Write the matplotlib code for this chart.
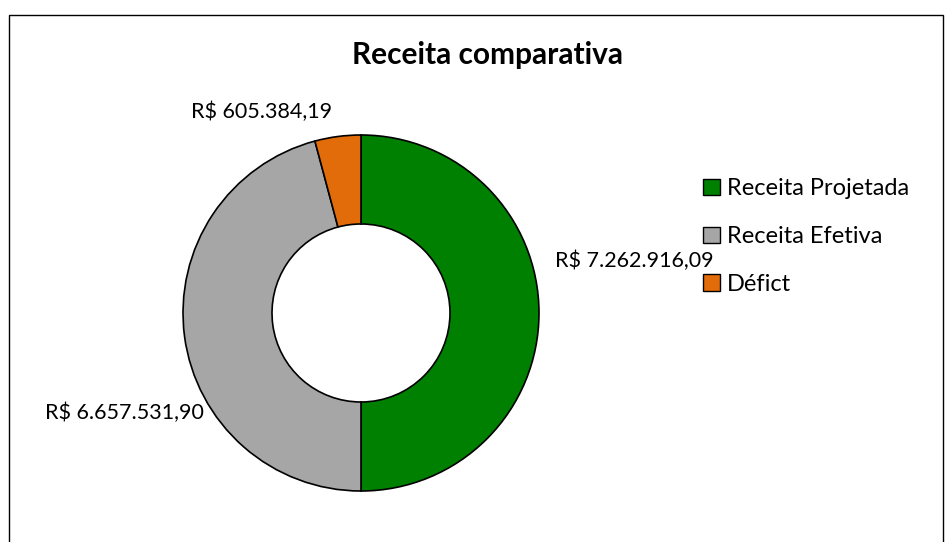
# Receita comparativa - donut chart
import matplotlib.pyplot as plt
from matplotlib.patches import Patch, Rectangle


# 1. Data
categories = ["Receita Projetada", "Receita Efetiva", "Déficit"]
legend_labels = ["Receita Projetada", "Receita Efetiva", "Défict"]
values = [7262916.09, 6657531.90, 605384.19]
value_labels = ["R$ 7.262.916,09", "R$ 6.657.531,90", "R$ 605.384,19"]
colors = ["#008000", "#A6A6A6", "#E36C0A"]


# 2. Figure setup
W, H = 951, 542
plt.rcParams["font.family"] = ["Lato", "DejaVu Sans"]
fig = plt.figure(figsize=(W / 100, H / 100), dpi=100)

# outer frame of the chart area (bottom edge falls outside the picture)
fig.patches.append(Rectangle((8.5 / W, -0.05), (943 - 8.5) / W, 1.05 - 14.5 / H,
                             transform=fig.transFigure, fill=False,
                             edgecolor="black", linewidth=1.0))

# donut: centre (361, 313) px, outer radius 178 px
cx, cy, r = 361, 313, 178
ax = fig.add_axes([(cx - r) / W, (H - cy - r) / H, 2 * r / W, 2 * r / H])
wedges, _ = ax.pie(
    values,
    colors=colors,
    startangle=90,
    counterclock=False,
    radius=1.0,
    wedgeprops=dict(width=0.5, edgecolor="black", linewidth=1.2),
)
ax.set_xlim(-1, 1)
ax.set_ylim(-1, 1)
ax.set_aspect("auto")


# 3. Value labels (positions in donut radius units)
label_pos = [(1.536, 0.29), (-1.33, -0.56), (-0.56, 1.13)]
for text, (x, y) in zip(value_labels, label_pos):
    ax.text(x, y, text, ha="center", va="center", fontsize=15.5, color="black",
            clip_on=False)


# 4. Title and legend
fig.text(487 / W, 1 - 55 / H, "Receita comparativa", ha="center", va="center",
         fontsize=21.5, fontweight="bold")

handles = [Patch(facecolor=c, edgecolor="black", linewidth=1.0) for c in colors]
fig.legend(handles, legend_labels, loc="upper left",
           bbox_to_anchor=(694 / W, 1 - 169 / H), frameon=False,
           fontsize=17, handlelength=0.68, handleheight=0.68, handletextpad=0.3,
           labelspacing=1.13, borderaxespad=0)

fig.savefig("out.png", dpi=100)
